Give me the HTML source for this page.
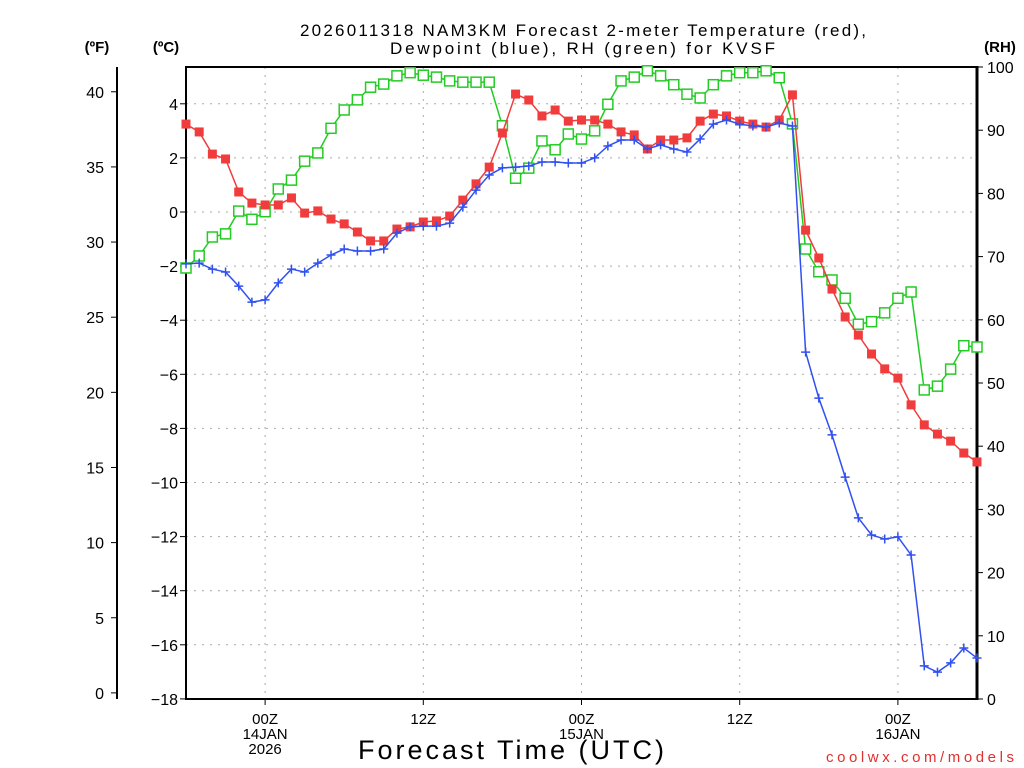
<!DOCTYPE html>
<html><head><meta charset="utf-8"><style>
body{margin:0;background:#fff;}
svg{display:block;font-family:"Liberation Sans",sans-serif;}
</style></head><body>
<svg id="c" width="1024" height="768" viewBox="0 0 1024 768">
<text x="300" y="36" font-size="17" textLength="566" lengthAdjust="spacing">2026011318 NAM3KM Forecast 2-meter Temperature (red),</text>
<text x="390" y="54" font-size="17" textLength="385" lengthAdjust="spacing">Dewpoint (blue), RH (green) for KVSF</text>
<text x="97" y="52" font-size="15" font-weight="bold" text-anchor="middle">(ºF)</text>
<text x="166" y="52" font-size="15" font-weight="bold" text-anchor="middle">(ºC)</text>
<text x="1000" y="52" font-size="15" font-weight="bold" text-anchor="middle">(RH)</text>
<text x="358" y="759" font-size="27" textLength="306" lengthAdjust="spacing">Forecast Time (UTC)</text>
<text x="826" y="762" font-size="15" fill="#e03030" textLength="188" lengthAdjust="spacing">coolwx.com/models</text>
<g id="grid"></g><g id="axes"></g><g id="series"></g>
</svg>
<script>
const hours=[];for(let i=0;i<=60;i++)hours.push(i);
const tempC=[3.25,2.96,2.14,1.96,0.74,0.33,0.26,0.26,0.52,-0.04,0.04,-0.26,-0.44,-0.74,-1.07,-1.07,-0.63,-0.55,-0.37,-0.33,-0.15,0.44,1.04,1.66,2.92,4.36,4.14,3.55,3.77,3.36,3.40,3.40,3.25,2.96,2.85,2.33,2.66,2.66,2.74,3.36,3.62,3.55,3.36,3.25,3.14,3.40,4.33,-0.67,-1.70,-2.85,-3.88,-4.55,-5.25,-5.80,-6.14,-7.13,-7.87,-8.21,-8.47,-8.91,-9.24];
const dewC=[-1.92,-1.89,-2.11,-2.22,-2.74,-3.33,-3.25,-2.62,-2.11,-2.22,-1.89,-1.59,-1.37,-1.44,-1.44,-1.37,-0.78,-0.55,-0.52,-0.52,-0.41,0.18,0.81,1.37,1.63,1.66,1.70,1.85,1.85,1.81,1.81,2.00,2.44,2.66,2.66,2.33,2.48,2.33,2.22,2.70,3.25,3.40,3.25,3.18,3.14,3.29,3.18,-5.18,-6.88,-8.24,-9.80,-11.31,-11.94,-12.09,-12.01,-12.68,-16.78,-17.01,-16.67,-16.12,-16.49];
const rh=[68.2,70.1,73.1,73.6,77.2,75.9,77.1,80.7,82.1,85.1,86.4,90.3,93.2,94.8,96.8,97.3,98.6,99.1,98.7,98.4,97.8,97.6,97.6,97.6,90.7,82.4,84.0,88.3,86.9,89.4,88.6,89.9,94.1,97.8,98.4,99.4,98.6,97.2,95.7,95.1,97.2,98.6,99.1,99.1,99.4,98.3,91.0,71.2,67.6,66.3,63.4,59.3,59.7,61.1,63.4,64.4,48.9,49.5,52.2,55.9,55.7];
const cTicks=[4,2,0,-2,-4,-6,-8,-10,-12,-14,-16,-18];
const fTicks=[40,35,30,25,20,15,10,5,0];
const rhTicks=[100,90,80,70,60,50,40,30,20,10,0];
const xTickHours=[6,18,30,42,54];
const xTickLabels=[["00Z","14JAN","2026"],["12Z"],["00Z","15JAN"],["12Z"],["00Z","16JAN"]];
const L=186,R=977,T=67,B=699;
const xs=h=>L+(R-L)*h/60;
const yc=c=>212-27.05*c;
const yf=f=>yc((f-32)*5/9);
const yr=r=>B-(B-T)*r/100;
const NS="http://www.w3.org/2000/svg";
function mk(tag,attrs,parent){const e=document.createElementNS(NS,tag);for(const k in attrs)e.setAttribute(k,attrs[k]);parent.appendChild(e);return e;}
const grid=document.getElementById('grid'),axes=document.getElementById('axes'),ser=document.getElementById('series');
cTicks.forEach(c=>{const y=yc(c);
 if(c>-18){const g=mk('line',{x1:L,x2:R,y1:y,y2:y,stroke:'#aaa','stroke-dasharray':'2,6'},grid);
 
 }
 mk('line',{x1:L-6,x2:L,y1:y,y2:y,stroke:'#000'},axes);
 const t=mk('text',{x:L-8,y:y+6,'font-size':16,'text-anchor':'end'},axes);t.textContent=c<0?'\u2212'+(-c):String(c);
 
 });
fTicks.forEach(f=>{const y=yf(f);
 mk('line',{x1:111,x2:117,y1:y,y2:y,stroke:'#000'},axes);
 const t=mk('text',{x:104,y:y+6,'font-size':16,'text-anchor':'end'},axes);t.textContent=f;
 
 });
rhTicks.forEach(r=>{const y=yr(r);
 mk('line',{x1:R,x2:R+6,y1:y,y2:y,stroke:'#000'},axes);
 const t=mk('text',{x:R+10,y:y+6,'font-size':16},axes);t.textContent=r;
 
 });
xTickHours.forEach((h,i)=>{const x=xs(h);
 const g=mk('line',{x1:x,x2:x,y1:T,y2:B,stroke:'#aaa','stroke-dasharray':'2,6'},grid);
 
 
 mk('line',{x1:x,x2:x,y1:B,y2:B+6,stroke:'#000'},axes);
 xTickLabels[i].forEach((s,j)=>{const t=mk('text',{x:x,y:724+j*15,'font-size':15,'text-anchor':'middle'},axes);t.textContent=s;
 
 });});
mk('rect',{x:L,y:T,width:R-L,height:B-T,fill:'none',stroke:'#000','stroke-width':2},axes);
mk('line',{x1:R,x2:R,y1:T-1,y2:B+1,stroke:'#000','stroke-width':3},axes);
mk('line',{x1:117,x2:117,y1:T,y2:B,stroke:'#000','stroke-width':2},axes);
function series(vals,yfn,color,name,marker){
 const g=mk('g',{},ser);
 mk('polyline',{points:vals.map((v,i)=>xs(hours[i])+','+yfn(v)).join(' '),fill:'none',stroke:color,'stroke-width':1.5},g);
 vals.forEach((v,i)=>{const x=xs(hours[i]),y=yfn(v);let m;
  if(marker==='fill')m=mk('rect',{x:x-4.5,y:y-4.5,width:9,height:9,fill:color},g);
  else if(marker==='open')m=mk('rect',{x:x-5,y:y-5,width:10,height:10,fill:'#fff',stroke:color,'stroke-width':1.5},g);
  else m=mk('path',{d:`M${x-4.5} ${y}H${x+4.5}M${x} ${y-4.5}V${y+4.5}`,stroke:color,'stroke-width':1.5},g);
  
  });}
series(rh,yr,'#22cc22','rh-series','open');
series(tempC,yc,'#f03c3c','temperature-series','fill');
series(dewC,yc,'#3050f0','dewpoint-series','plus');
</script>
</body></html>
